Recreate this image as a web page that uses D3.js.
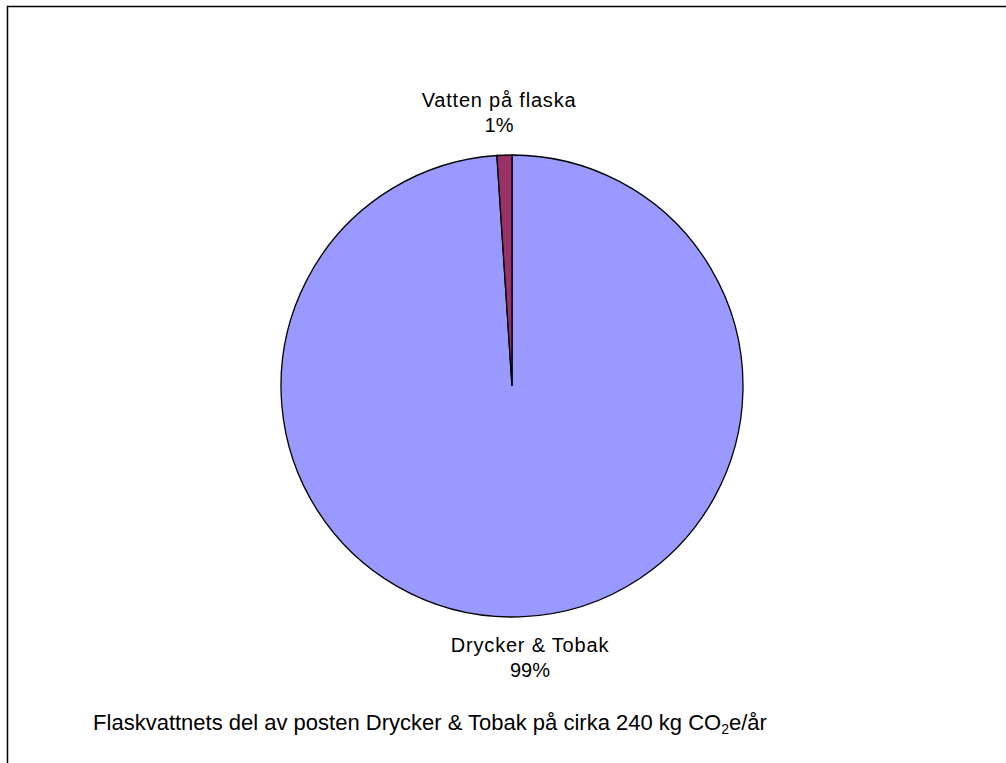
<!DOCTYPE html>
<html>
<head>
<meta charset="utf-8">
<script src="https://cdn.jsdelivr.net/npm/d3@7"></script>
<style>
  body { margin: 0; background: #fff; }
  svg { display: block; font-family: "Liberation Sans", Arial, sans-serif; }
</style>
</head>
<body>
<div id="chart"></div>
<script>
// data (kg CO2e/year)
var categories = ["Drycker & Tobak", "Vatten på flaska"];
var values = [237.5, 2.5];
var percentLabels = ["99%", "1%"];
var colors = ["#9999FF", "#993366"];

var width = 1006, height = 763;
var cx = 512, cy = 386, radius = 231;

var svg = d3.select("#chart").append("svg")
    .attr("width", width)
    .attr("height", height);

// outer frame (runs off the right and bottom)
svg.append("rect")
    .attr("x", 7.5).attr("y", 6.5)
    .attr("width", 1010).attr("height", 770)
    .attr("fill", "#fff")
    .attr("stroke", "#000")
    .attr("stroke-width", 1.5);

var data = categories.map(function(c, i){
    return {name: c, value: values[i], pct: percentLabels[i], color: colors[i]};
});

var pie = d3.pie().sort(null).value(function(d){ return d.value; });
var arc = d3.arc().innerRadius(0).outerRadius(radius);

var g = svg.append("g").attr("transform", "translate(" + cx + "," + cy + ")");

g.selectAll("path")
    .data(pie(data))
    .enter().append("path")
    .attr("d", arc)
    .attr("fill", function(d){ return d.data.color; })
    .attr("stroke", "#000")
    .attr("stroke-width", 1.3);

// labels: big slice below, small slice above
var labelPos = [
    {x: 530 - cx, y: 652 - cy, y2: 677 - cy},
    {x: 499 - cx, y: 107 - cy, y2: 132 - cy}
];
var labels = g.selectAll("g.lbl")
    .data(pie(data))
    .enter().append("g")
    .attr("class", "lbl");

labels.append("text")
    .attr("x", function(d, i){ return labelPos[i].x; })
    .attr("y", function(d, i){ return labelPos[i].y; })
    .attr("text-anchor", "middle")
    .attr("font-size", 20)
    .attr("letter-spacing", 0.8)
    .attr("fill", "#000")
    .text(function(d){ return d.data.name; });

labels.append("text")
    .attr("x", function(d, i){ return labelPos[i].x; })
    .attr("y", function(d, i){ return labelPos[i].y2; })
    .attr("text-anchor", "middle")
    .attr("font-size", 20)
    .attr("fill", "#000")
    .text(function(d){ return d.data.pct; });

// title with subscript
var title = svg.append("text")
    .attr("x", 430)
    .attr("y", 730)
    .attr("text-anchor", "middle")
    .attr("font-size", 22)
    .attr("fill", "#000");
title.append("tspan").text("Flaskvattnets del av posten Drycker & Tobak på cirka 240 kg CO");
title.append("tspan").attr("font-size", 14).attr("dy", 4).text("2");
title.append("tspan").attr("dy", -4).text("e/år");
</script>
</body>
</html>
